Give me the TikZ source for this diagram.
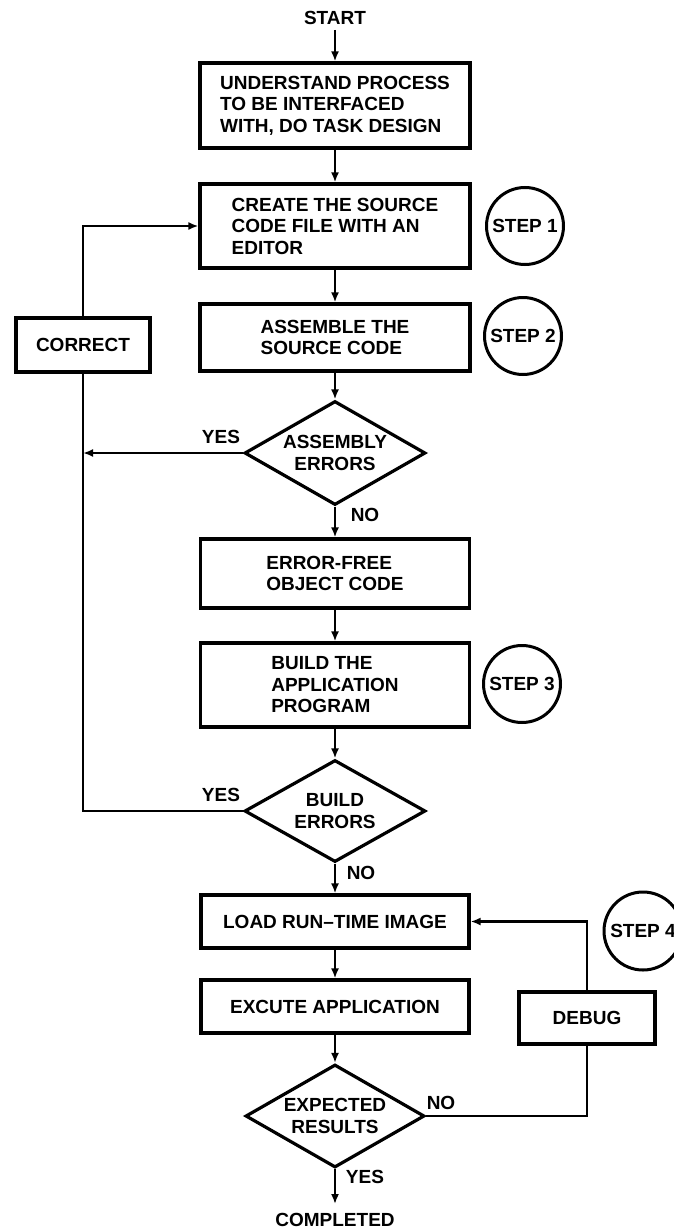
\documentclass[tikz,border=0pt]{standalone}
\usepackage{fontspec}
\setmainfont{Liberation Sans}
\usetikzlibrary{shapes.geometric,arrows.meta}
\begin{document}
\begin{tikzpicture}[x=1pt,y=-1pt,
  every node/.style={font=\fontsize{19}{21.5}\selectfont\bfseries, inner sep=0pt},
  procbox/.style={draw, line width=3.2pt, align=left},
  decision/.style={draw, diamond, line width=3.2pt, align=center, shape aspect=1.74},
  stepcirc/.style={draw, circle, line width=3pt, minimum size=77pt},
  conn/.style={line width=2.6pt},
  arr/.style={conn, -{Latex[length=10pt,width=8pt]}}
]
\useasboundingbox (0,0) rectangle (674,1231);

% main column
\node (start) at (335,18) {START};
\node[procbox, minimum width=270pt, minimum height=85pt] (b1) at (335,105.5)
  {UNDERSTAND PROCESS\\TO BE INTERFACED\\WITH, DO TASK DESIGN};
\node[procbox, minimum width=270pt, minimum height=84pt] (b2) at (335,226)
  {CREATE THE SOURCE\\CODE FILE WITH AN\\EDITOR};
\node[procbox, minimum width=270pt, minimum height=67pt] (b3) at (335,337.5)
  {ASSEMBLE THE\\SOURCE CODE};
\node[decision, minimum width=181pt, minimum height=104pt] (d1) at (335,453)
  {ASSEMBLY\\ERRORS};
\node[procbox, minimum width=269pt, minimum height=69pt] (b4) at (335,573.5)
  {ERROR-FREE\\OBJECT CODE};
\node[procbox, minimum width=269pt, minimum height=84pt] (b5) at (335,685)
  {BUILD THE\\APPLICATION\\PROGRAM};
\node[decision, minimum width=181pt, minimum height=102pt] (d2) at (335,811)
  {BUILD\\ERRORS};
\node[procbox, minimum width=268pt, minimum height=53pt] (b6) at (335,921.5)
  {LOAD RUN--TIME IMAGE};
\node[procbox, minimum width=268pt, minimum height=53pt] (b7) at (335,1006.5)
  {EXCUTE APPLICATION};
\node[decision, minimum width=179pt, minimum height=103pt] (d3) at (335,1116)
  {EXPECTED\\RESULTS};
\node (done) at (335,1220) {COMPLETED};

% side boxes
\node[procbox, minimum width=134pt, minimum height=54pt] (correct) at (83,345) {CORRECT};
\node[procbox, minimum width=136pt, minimum height=52pt] (debug) at (587,1018) {DEBUG};

% step circles
\node[stepcirc] (s1) at (525,226) {STEP 1};
\node[stepcirc] (s2) at (523,336) {STEP 2};
\node[stepcirc] (s3) at (522,684) {STEP 3};
\node[stepcirc, minimum size=78pt] (s4) at (643,931) {STEP 4};

% labels
\node (ly1) at (221,437) {YES};
\node (ln1) at (365,515) {NO};
\node (ly2) at (221,795) {YES};
\node (ln2) at (361,873) {NO};
\node (ln3) at (441,1103) {NO};
\node (ly3) at (365,1177) {YES};

% main flow
\draw[arr, shorten <=5pt] (start.south) -- (b1.north);
\draw[arr] (b1.south) -- (b2.north);
\draw[arr] (b2.south) -- (b3.north);
\draw[arr] (b3.south) -- (d1.north);
\draw[arr] (d1.south) -- (b4.north);
\draw[arr] (b4.south) -- (b5.north);
\draw[arr] (b5.south) -- (d2.north);
\draw[arr] (d2.south) -- (b6.north);
\draw[arr] (b6.south) -- (b7.north);
\draw[arr] (b7.south) -- (d3.north);
\draw[arr, shorten >=9pt] (d3.south) -- (done.north);

% correction loop
\draw[conn] (d2.west) -- (d2.west -| correct.south) -- (correct.south);
\draw[arr] (correct.north) -- (correct.north |- b2.west) -- (b2.west);
\draw[arr] (d1.west) -- (d1.west -| correct.south);

% debug loop
\draw[conn] (d3.east) -- (d3.east -| debug.south) -- (debug.south);
\draw[arr] (debug.north) -- (debug.north |- b6.east) -- (b6.east);
\end{tikzpicture}
\end{document}
